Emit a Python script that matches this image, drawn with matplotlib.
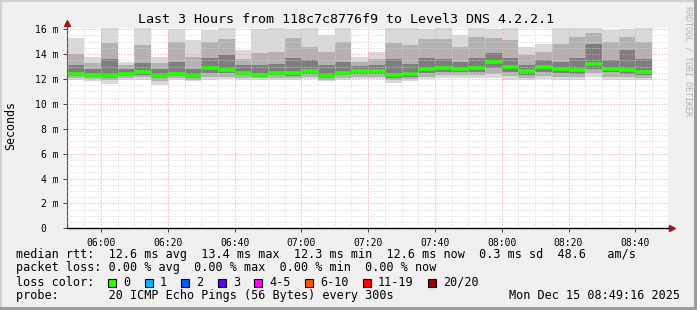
import matplotlib
matplotlib.use("Agg")
import matplotlib.pyplot as plt
import matplotlib.patches as patches
from matplotlib.ticker import MultipleLocator
import numpy as np

W, H = 697, 310
MONO = "DejaVu Sans Mono"

# one smoke column every 5 minutes, first one starts at 05:50
first_step = "05:50"
step_min = 5

median = [12.42, 12.30, 12.27, 12.42, 12.56, 12.27, 12.42, 12.25, 12.85, 12.75,
          12.50, 12.35, 12.50, 12.45, 12.64, 12.27, 12.50, 12.64, 12.64, 12.30,
          12.37, 12.78, 12.90, 12.83, 12.90, 13.36, 12.93, 12.64, 13.00, 12.78,
          12.70, 13.17, 12.83, 12.72, 12.60]
ping_max = [15.3, 13.8, 16.1, 13.4, 16.1, 13.8, 16.0, 15.1, 15.9, 16.1,
            14.3, 16.0, 16.1, 16.0, 16.1, 15.5, 16.1, 13.8, 14.2, 16.1,
            16.1, 16.0, 16.1, 15.5, 16.1, 16.0, 16.1, 14.6, 14.85, 16.1,
            16.1, 16.1, 15.9, 16.0, 16.1]
ping_q90 = [14.0, 13.3, 14.9, 13.1, 14.7, 13.3, 15.0, 13.8, 15.0, 15.2,
            13.6, 14.1, 14.2, 15.3, 14.6, 14.2, 15.0, 13.4, 13.6, 14.9,
            14.7, 15.2, 15.2, 14.6, 15.4, 15.3, 15.1, 13.9, 14.2, 14.8,
            15.4, 15.7, 15.0, 15.4, 15.0]
ping_q75 = [13.1, 12.8, 13.6, 12.8, 13.3, 12.8, 13.4, 12.8, 13.7, 13.9,
            13.1, 13.1, 13.2, 13.7, 13.5, 13.1, 13.4, 13.05, 13.1, 13.6,
            13.2, 13.7, 13.6, 13.4, 13.7, 14.1, 13.7, 13.1, 13.5, 13.4,
            13.7, 14.8, 13.5, 14.3, 13.6]
ping_q25 = [12.25, 12.15, 12.10, 12.25, 12.35, 12.05, 12.25, 12.05, 12.50, 12.45,
            12.30, 12.20, 12.30, 12.25, 12.40, 12.05, 12.30, 12.40, 12.40, 12.10,
            12.15, 12.50, 12.60, 12.55, 12.60, 12.90, 12.60, 12.35, 12.60, 12.45,
            12.40, 12.80, 12.55, 12.40, 12.35]
ping_q10 = [12.10, 12.00, 11.90, 12.10, 12.15, 11.80, 12.10, 11.90, 12.20, 12.20,
            12.10, 12.05, 12.10, 12.10, 12.20, 11.90, 12.10, 12.20, 12.20, 11.95,
            12.00, 12.20, 12.30, 12.30, 12.30, 12.40, 12.25, 12.10, 12.25, 12.15,
            12.15, 12.50, 12.20, 12.15, 12.10]
ping_min = [11.90, 11.80, 11.60, 11.90, 11.95, 11.50, 11.90, 11.80, 11.95, 12.00,
            11.90, 11.90, 11.90, 11.95, 12.00, 11.80, 11.95, 12.00, 12.00, 11.70,
            11.80, 12.00, 12.05, 12.10, 12.05, 12.10, 11.95, 11.90, 12.00, 11.90,
            11.90, 12.20, 11.95, 11.90, 11.90]

x_labels = ["06:00", "06:20", "06:40", "07:00", "07:20", "07:40", "08:00", "08:20", "08:40"]
y_values = [0, 2, 4, 6, 8, 10, 12, 14, 16]
y_labels = ["0  ", "2 m", "4 m", "6 m", "8 m", "10 m", "12 m", "14 m", "16 m"]

loss_labels = ["0", "1", "2", "3", "4-5", "6-10", "11-19", "20/20"]
loss_colors = ["#26ff00", "#00b8ff", "#0059ff", "#5e00ff", "#ff00ff", "#ff5500", "#ff0000", "#a10000"]

title = "Last 3 Hours from 118c7c8776f9 to Level3 DNS 4.2.2.1"
legend_lines = [
    "median rtt:  12.6 ms avg  13.4 ms max  12.3 ms min  12.6 ms now  0.3 ms sd  48.6   am/s",
    "packet loss: 0.00 % avg  0.00 % max  0.00 % min  0.00 % now",
    "loss color:",
    "probe:       20 ICMP Echo Pings (56 Bytes) every 300s",
]
stamp = "Mon Dec 15 08:49:16 2025"


def to_min(s):
    h, m = s.split(":")
    return int(h) * 60 + int(m)


def px(x, y):
    """pixel position (from top left) -> figure fraction"""
    return x / W, 1 - y / H


starts = to_min(first_step) + step_min * np.arange(len(median))

fig = plt.figure(figsize=(W / 100, H / 100), dpi=100, facecolor="#f0f0f0")

# frame shading like rrdtool
fig.add_artist(patches.Rectangle(px(0, 310), 2 / W, 1, transform=fig.transFigure, color="#d0d0d0", lw=0))
fig.add_artist(patches.Rectangle(px(0, 2), 1, 2 / H, transform=fig.transFigure, color="#d0d0d0", lw=0))
fig.add_artist(patches.Rectangle(px(694, 310), 3 / W, 1, transform=fig.transFigure, color="#9c9c9c", lw=0))
fig.add_artist(patches.Rectangle(px(0, 310), 1, 3 / H, transform=fig.transFigure, color="#9c9c9c", lw=0))

left, bottom = px(67, 228.3)
ax = fig.add_axes([left, bottom, 601 / W, 200.3 / H])
ax.set_facecolor("white")
ax.set_xlim(to_min(first_step) - 0.2, to_min(first_step) - 0.2 + 180)
ax.set_ylim(0, 16.1)

# smoke: outer pair lightest, inner pair darkest
layers = [(ping_min, ping_max, "#d9d9d9"),
          (ping_q10, ping_q90, "#b2b2b2"),
          (ping_q25, ping_q75, "#7e7e7e")]
for lo, hi, col in layers:
    lo = np.array(lo)
    hi = np.array(hi)
    ax.bar(starts, hi - lo, bottom=lo, width=step_min, align="edge", color=col, linewidth=0, zorder=1)

ax.hlines(median, starts, starts + step_min, color=loss_colors[0], linewidth=2.6, capstyle="butt", zorder=3)

# grid
ax.set_axisbelow(False)
ax.xaxis.set_major_locator(MultipleLocator(20))
ax.xaxis.set_minor_locator(MultipleLocator(5))
ax.yaxis.set_minor_locator(MultipleLocator(0.5))
ax.grid(which="minor", color="#d4d4d4", linestyle=(0, (1, 2)), linewidth=0.72)
ax.grid(which="major", color="#f2a0a0", linestyle=(0, (1, 2)), linewidth=0.72)

ax.set_xticks([to_min(s) for s in x_labels])
ax.set_xticklabels(x_labels, family=MONO, fontsize=7)
ax.set_yticks(y_values)
ax.set_yticklabels(y_labels, family=MONO, fontsize=7)
ax.tick_params(which="major", length=3, width=0.7, color="#444444", pad=3)
ax.tick_params(which="minor", length=0)
ax.tick_params(axis="x", pad=4)

for side in ["top", "right"]:
    ax.spines[side].set_visible(False)
ax.spines["left"].set_color("#555555")
ax.spines["left"].set_linewidth(0.8)
ax.spines["bottom"].set_color("black")
ax.spines["bottom"].set_linewidth(1.0)

# axis arrows
ax.plot([1.0, 1.006], [0, 0], transform=ax.transAxes, color="black", lw=1.0, clip_on=False)
ax.plot([1.007], [0], marker=">", markersize=4, color="#a01818", transform=ax.transAxes, clip_on=False)
ax.plot([0, 0], [1.0, 1.02], transform=ax.transAxes, color="#555555", lw=0.8, clip_on=False)
ax.plot([0], [1.026], marker="^", markersize=4, color="#a01818", transform=ax.transAxes, clip_on=False)

# texts
fig.text(*px(346.5, 19.5), title, family=MONO, fontsize=9.6, ha="center", va="center")
fig.text(*px(11, 126), "Seconds", family=MONO, fontsize=8.4, rotation=90, ha="center", va="center")
fig.text(*px(688, 61), "RRDTOOL / TOBI OETIKER", family=MONO, fontsize=6, color="#b4b4b4",
         rotation=270, ha="center", va="center")

line_y = [254.3, 267.7, 282.3, 295.7]
for txt, y in zip(legend_lines, line_y):
    fig.text(*px(16, y), txt, family=MONO, fontsize=8.5, ha="left", va="center")
fig.text(*px(680, line_y[3]), stamp, family=MONO, fontsize=8.5, ha="right", va="center")

char_w = 7.1
bx = 108
for lab, col in zip(loss_labels, loss_colors):
    fig.add_artist(patches.Rectangle(px(bx, 286.5), 8 / W, 8 / H, transform=fig.transFigure,
                                     facecolor=col, edgecolor="black", lw=0.8))
    fig.text(*px(bx + 15, line_y[2]), lab, family=MONO, fontsize=8.5, ha="left", va="center")
    bx = bx + 15 + len(lab) * char_w + 14.5

fig.savefig("out.png", dpi=100, facecolor=fig.get_facecolor())
